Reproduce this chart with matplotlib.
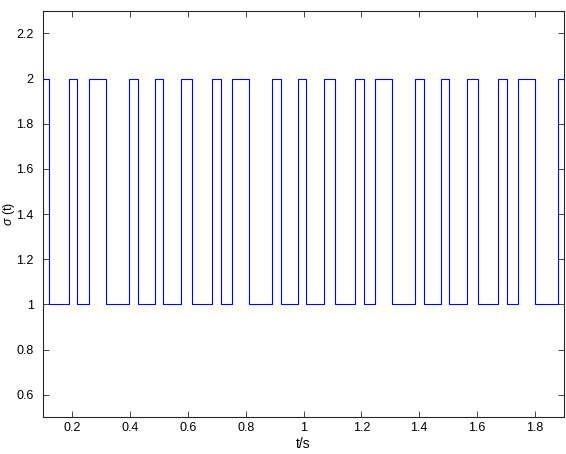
import numpy as np
import matplotlib
matplotlib.use("Agg")
from matplotlib import pyplot as plt
from matplotlib.ticker import FuncFormatter

# switching instants (s) and the mode held after each instant
t_switch = [0.100, 0.119, 0.190, 0.218, 0.259, 0.318, 0.398, 0.427, 0.486,
            0.515, 0.575, 0.615, 0.685, 0.714, 0.753, 0.813, 0.892, 0.921,
            0.981, 1.010, 1.070, 1.110, 1.179, 1.208, 1.248, 1.307, 1.387,
            1.416, 1.476, 1.504, 1.565, 1.605, 1.674, 1.703, 1.743, 1.802,
            1.881, 1.900]
sigma = [2, 1, 2, 1, 2, 1, 2, 1, 2,
         1, 2, 1, 2, 1, 2, 1, 2, 1,
         2, 1, 2, 1, 2, 1, 2, 1, 2,
         1, 2, 1, 2, 1, 2, 1, 2, 1,
         2, 2]

x_ticks = [0.2, 0.4, 0.6, 0.8, 1.0, 1.2, 1.4, 1.6, 1.8]
y_ticks = [0.6, 0.8, 1.0, 1.2, 1.4, 1.6, 1.8, 2.0, 2.2]

plt.rcParams['font.family'] = ['Liberation Sans', 'DejaVu Sans']
plt.rcParams['mathtext.fontset'] = 'custom'
plt.rcParams['mathtext.it'] = 'Liberation Sans:italic'

fig = plt.figure(figsize=(5.66, 4.54), dpi=100)
ax = fig.add_axes([0.0765, 0.081, 0.9195, 0.895])

ax.step(t_switch, sigma, where='post', color='#0000ff', linewidth=0.8)

ax.set_xlim(0.1, 1.9)
ax.set_ylim(0.5, 2.3)
ax.set_xticks(x_ticks)
ax.set_yticks(y_ticks)
fmt = FuncFormatter(lambda v, p: ('%g' % round(v, 3)))
ax.xaxis.set_major_formatter(fmt)
ax.yaxis.set_major_formatter(fmt)

edge = '#262626'
for s in ax.spines.values():
    s.set_color(edge)
    s.set_linewidth(0.8)
ax.tick_params(direction='in', length=4, width=0.6, colors=edge,
               labelcolor='black', labelsize=9, top=True, right=True)
ax.tick_params(axis='y', pad=7)

ax.set_xlabel('t/s', fontsize=10, labelpad=2)
ax.set_ylabel(r'$\sigma$ (t)', fontsize=9)
ax.yaxis.set_label_coords(-0.05, 0.5)

fig.savefig('out.png', dpi=100)
